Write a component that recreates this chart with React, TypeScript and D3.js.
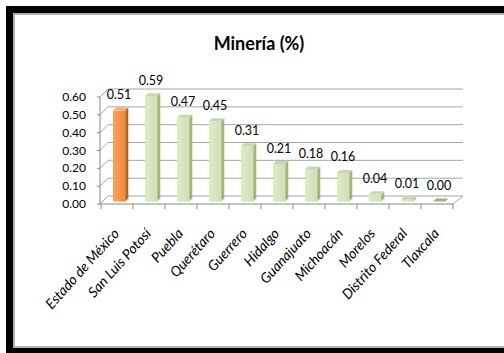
import React from "react";
import * as d3 from "d3";

const categories = [
  "Estado de México",
  "San Luis Potosí",
  "Puebla",
  "Querétaro",
  "Guerrero",
  "Hidalgo",
  "Guanajuato",
  "Michoacán",
  "Morelos",
  "Distrito Federal",
  "Tlaxcala",
];
const values = [0.51, 0.59, 0.47, 0.45, 0.31, 0.21, 0.18, 0.16, 0.04, 0.01, 0.0];
const yTicks = [0, 0.1, 0.2, 0.3, 0.4, 0.5, 0.6];
const highlight = "Estado de México";
const title = "Minería (%)";

const W = 504;
const H = 353;
const DEPTH = 8; // wall depth offset
const BAR_OFF = 2.5; // bar plane offset
const BAR_D = 3; // bar depth

export default function App() {
  const x = d3.scaleBand<string>().domain(categories).range([101, 453]).padding(0);
  const y = d3.scaleLinear().domain([0, 0.6]).range([204, 97]);
  const bw = x.bandwidth();
  const font = "Lato, 'Open Sans', sans-serif";
  const gridColor = "#a6a6a6";
  const axisColor = "#868686";
  const x0 = 100;
  const xR = 453;

  const bars = categories.map((c, i) => {
    const v = values[i];
    const left = (x(c) as number) + bw * 0.365 + 0.3;
    const w = bw * 0.385;
    const base = y(0) - BAR_OFF;
    const top = y(v) - BAR_OFF;
    const isH = c === highlight;
    const front = isH ? "url(#gOrange)" : "url(#gGreen)";
    const side = isH ? "#b9621f" : "#a3b57c";
    const topC = isH ? "#f5ae78" : "#c9d7a9";
    const d = BAR_D;
    const h = base - top;
    return (
      <g key={c}>
        {h > 0.5 && <rect x={left} y={top} width={w} height={h} fill={front} />}
        <path
          d={`M${left + w},${top} L${left + w + d},${top - d} L${left + w + d},${base - d} L${left + w},${base} Z`}
          fill={side}
        />
        <path
          d={`M${left},${top} L${left + d},${top - d} L${left + w + d},${top - d} L${left + w},${top} Z`}
          fill={h > 0.5 ? topC : "#9fb278"}
        />
        <text
          x={(x(c) as number) + bw / 2 + 2}
          y={y(v) - 14}
          textAnchor="middle"
          fontFamily={font}
          fontSize={12.5}
          fill="#000"
        >
          {v.toFixed(2)}
        </text>
      </g>
    );
  });

  return (
    <svg
      width={W}
      height={H}
      viewBox={`0 0 ${W} ${H}`}
      style={{ position: "absolute", left: 0, top: 0, background: "#fff" }}
    >
      <defs>
        <linearGradient id="gOrange" x1="0" x2="1" y1="0" y2="0">
          <stop offset="0" stopColor="#f9a25f" />
          <stop offset="1" stopColor="#f08a38" />
        </linearGradient>
        <linearGradient id="gGreen" x1="0" x2="1" y1="0" y2="0">
          <stop offset="0" stopColor="#dfe9c8" />
          <stop offset="1" stopColor="#d2dfb5" />
        </linearGradient>
      </defs>
      {/* frame */}
      <rect x={6} y={6} width={W} height={H} fill="#000" />
      <rect x={13} y={13} width={W} height={335} fill="#b0b0b0" />
      <rect x={15} y={15} width={W} height={331} fill="#fff" />

      <text
        x={259}
        y={50}
        textAnchor="middle"
        fontFamily={font}
        fontWeight="bold"
        fontSize={18}
        fill="#000"
      >
        {title}
      </text>

      {/* back wall gridlines + side wall slants */}
      {yTicks.map((t) => (
        <g key={t}>
          <line
            x1={x0 + DEPTH}
            x2={xR + DEPTH + 2}
            y1={y(t) - DEPTH}
            y2={y(t) - DEPTH}
            stroke={gridColor}
            strokeWidth={1}
          />
          <line
            x1={x0}
            y1={y(t)}
            x2={x0 + DEPTH}
            y2={y(t) - DEPTH}
            stroke={gridColor}
            strokeWidth={1}
          />
          <line x1={x0 - 3} x2={x0} y1={y(t)} y2={y(t)} stroke={axisColor} />
          <text
            x={86}
            y={y(t) + 4}
            textAnchor="end"
            fontFamily={font}
            fontSize={12}
            fill="#000"
          >
            {t.toFixed(2)}
          </text>
        </g>
      ))}
      {/* floor right edge */}
      <line x1={xR} y1={y(0)} x2={xR + DEPTH + 2} y2={y(0) - DEPTH} stroke={gridColor} />
      {/* value axis */}
      <line x1={x0} x2={x0} y1={y(0.6)} y2={y(0)} stroke={axisColor} />
      {/* category axis */}
      <line x1={x0} x2={xR} y1={y(0)} y2={y(0)} stroke={axisColor} />
      {[...categories.map((c) => x(c) as number), xR].map((p, i) => (
        <line key={i} x1={p} x2={p} y1={y(0)} y2={y(0) + 5} stroke={axisColor} />
      ))}

      {bars}

      {categories.map((c) => (
        <text
          key={c}
          transform={`translate(${(x(c) as number) + bw / 2 + 3},${234}) rotate(-48)`}
          textAnchor="end"
          fontFamily={font}
          fontStyle="italic"
          fontSize={14}
          fill="#000"
        >
          {c}
        </text>
      ))}
    </svg>
  );
}
